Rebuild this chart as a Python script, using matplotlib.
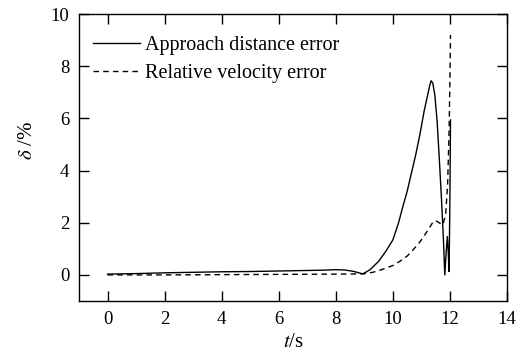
import matplotlib
matplotlib.use('Agg')
import matplotlib.pyplot as plt
import numpy as np

plt.rcParams['font.family'] = ['Liberation Serif', 'DejaVu Serif']
plt.rcParams['mathtext.fontset'] = 'stix'

# Approach distance error (%)
t1 = [0.0, 1.0, 2.0, 3.0, 4.0, 5.0, 6.0, 7.0, 7.5, 8.0, 8.3, 8.6, 8.95, 9.2, 9.5, 9.75, 10.0,
      10.2, 10.35, 10.5, 10.65, 10.8, 10.95, 11.1, 11.2, 11.3, 11.34, 11.4, 11.47, 11.55,
      11.62, 11.7, 11.77, 11.82, 11.87, 11.91, 11.94, 11.97, 12.0, 12.02]
d1 = [0.03, 0.05, 0.08, 0.1, 0.12, 0.13, 0.15, 0.17, 0.18, 0.2, 0.19, 0.14, 0.04, 0.2, 0.52, 0.9, 1.34,
      2.0, 2.62, 3.2, 3.9, 4.6, 5.4, 6.3, 6.8, 7.3, 7.44, 7.35, 6.9, 5.9,
      4.6, 3.0, 1.4, 0.0, 0.9, 1.47, 0.9, 0.13, 3.0, 5.94]

# Relative velocity error (%)
t2 = [0.0, 2.0, 4.0, 6.0, 8.0, 8.95, 9.3, 9.6, 10.0, 10.23, 10.5, 10.7, 10.93, 11.1, 11.25,
      11.38, 11.46, 11.55, 11.65, 11.75, 11.85, 11.92, 11.97, 12.0, 12.02]
d2 = [0.0, 0.0, 0.01, 0.02, 0.03, 0.04, 0.1, 0.2, 0.36, 0.51, 0.72, 0.95, 1.24, 1.5, 1.75,
      1.98, 2.08, 2.05, 1.98, 1.92, 2.3, 3.5, 5.5, 7.5, 9.2]

fig = plt.figure(figsize=(5.22, 3.58), dpi=100)
ax = fig.add_axes([79/522, 1 - 301/358, 428/522, 287/358])

ax.plot(t1, d1, 'k-', lw=1.0, label='Approach distance error')
ax.plot(t2, d2, 'k--', lw=1.0, dashes=(4, 3), label='Relative velocity error')

ax.set_xlim(-1, 14)
ax.set_ylim(-1, 10)
ax.set_xticks(np.arange(0, 15, 2))
ax.set_yticks(np.arange(0, 11, 2))
ax.tick_params(direction='in', top=True, right=True, length=7, width=1, labelsize=13.5, pad=7)
for s in ax.spines.values():
    s.set_linewidth(1.0)

ax.set_xlabel('$t$/s', fontsize=15)
ax.xaxis.set_label_coords(0.5, -0.112)
ax.set_ylabel(r'$\delta$ /%', fontsize=15)
ax.yaxis.set_label_coords(-0.098, 0.56)

ax.legend(loc='upper left', bbox_to_anchor=(0.033, 0.922), frameon=False, fontsize=14.5,
          handlelength=2.33, handletextpad=0.25, labelspacing=0.4,
          borderaxespad=0, borderpad=0)

fig.savefig('out.png', dpi=100)
